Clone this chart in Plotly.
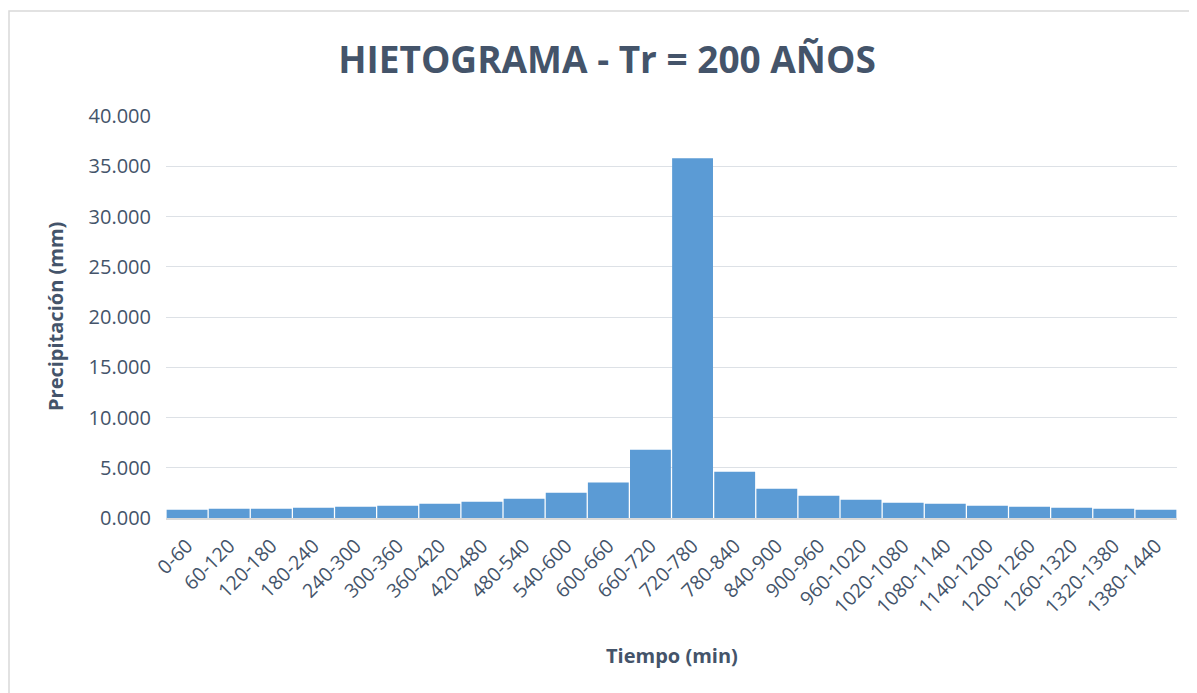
import plotly.graph_objects as go

categories = ["0-60", "60-120", "120-180", "180-240", "240-300", "300-360", "360-420",
              "420-480", "480-540", "540-600", "600-660", "660-720", "720-780", "780-840",
              "840-900", "900-960", "960-1020", "1020-1080", "1080-1140", "1140-1200",
              "1200-1260", "1260-1320", "1320-1380", "1380-1440"]
precip = [0.83, 0.92, 0.92, 1.02, 1.12, 1.22, 1.42, 1.62, 1.92, 2.52, 3.52, 6.80, 35.80,
          4.60, 2.92, 2.22, 1.82, 1.52, 1.42, 1.22, 1.12, 1.02, 0.92, 0.83]
y_ticks = [0, 5, 10, 15, 20, 25, 30, 35, 40]
y_tick_labels = ["0.000", "5.000", "10.000", "15.000", "20.000", "25.000", "30.000", "35.000", "40.000"]

txt = "#44546A"
font = "Open Sans"

fig = go.Figure(go.Bar(
    x=categories, y=precip,
    marker=dict(color="#5B9BD5", line=dict(width=0)),
))

# figure is offset by 8px body margin in the page
W, H = 1189, 685
L, T = 158, 108
pw, ph = 1011, 402
R = W - L - pw
B = H - T - ph

fig.update_layout(
    width=W, height=H,
    margin=dict(l=L, r=R, t=T, b=B),
    plot_bgcolor="white", paper_bgcolor="white",
    title=dict(text="<b>HIETOGRAMA - Tr = 200 AÑOS</b>", x=(607 - 8) / W, xanchor="center",
               y=1 - 52 / H, yanchor="middle",
               font=dict(family=font, size=37, color=txt)),
    font=dict(family=font, color=txt),
    bargap=0.03,
    showlegend=False,
    xaxis=dict(
        tickangle=-45, tickfont=dict(size=19.5, color=txt), ticklabelstandoff=7,
        showline=True, linecolor="#D9D9D9", linewidth=1.5,
        ticks="", showgrid=False,
    ),
    yaxis=dict(
        range=[0, 40], tickvals=y_ticks, ticktext=y_tick_labels,
        tickfont=dict(size=20, color=txt), ticklabelstandoff=14,
        showgrid=True, gridcolor="#DDE1E6", gridwidth=1,
        zeroline=False, showline=False, ticks="",
    ),
    annotations=[
        dict(text="<b>Tiempo (min)</b>", xref="paper", yref="paper",
             x=(672 - 166) / pw, y=(518 - 655) / ph, xanchor="center", yanchor="middle",
             showarrow=False, font=dict(family=font, size=20, color=txt)),
        dict(text="<b>Precipitación (mm)</b>", xref="paper", yref="paper",
             x=(55 - 166) / pw, y=0.5, xanchor="center", yanchor="middle", textangle=-90,
             showarrow=False, font=dict(family=font, size=20, color=txt)),
    ],
    shapes=[dict(type="rect", xref="paper", yref="paper",
                 x0=(1 - L) / pw, x1=(1200 - L) / pw,
                 y0=-(H + 10 - (T + ph)) / ph, y1=1 + (T - 3) / ph,
                 line=dict(color="#D9D9D9", width=1.5), fillcolor="rgba(0,0,0,0)", layer="below")],
)

fig.write_html("out.html")
